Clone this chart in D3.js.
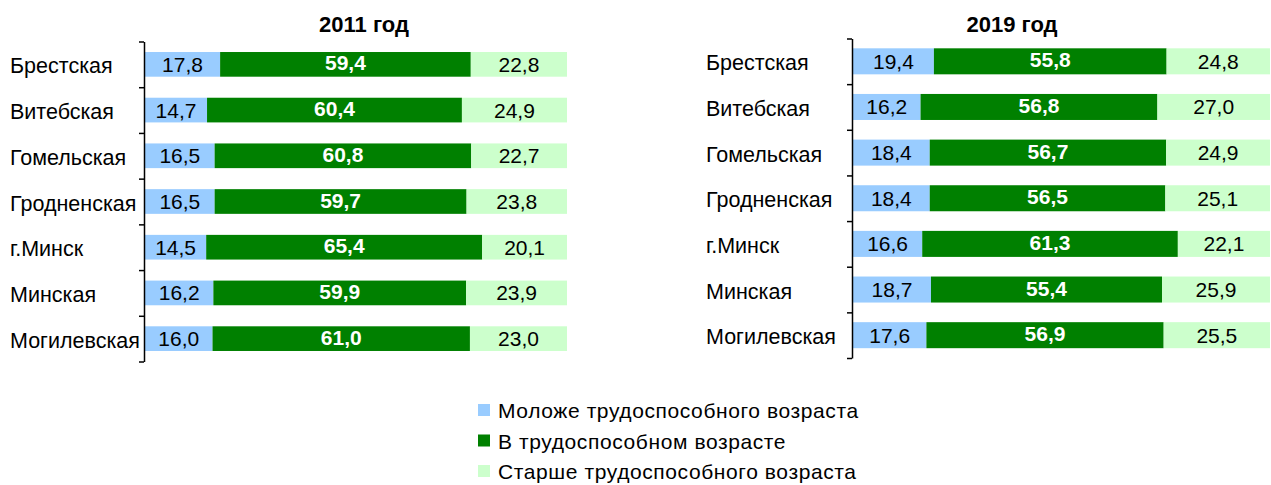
<!DOCTYPE html>
<html>
<head>
<meta charset="utf-8">
<script src="https://cdn.jsdelivr.net/npm/d3@7"></script>
<style>
  body { margin: 0; background: #fff; }
  svg text { font-family: "Liberation Sans", Arial, sans-serif; }
</style>
</head>
<body>
<div id="viz"></div>
<script>
// data
var regions = ["Брестская", "Витебская", "Гомельская", "Гродненская", "г.Минск", "Минская", "Могилевская"];
var seriesNames = ["Моложе трудоспособного возраста", "В трудоспособном возрасте", "Старше трудоспособного возраста"];
var young2011 = [17.8, 14.7, 16.5, 16.5, 14.5, 16.2, 16.0];
var working2011 = [59.4, 60.4, 60.8, 59.7, 65.4, 59.9, 61.0];
var old2011 = [22.8, 24.9, 22.7, 23.8, 20.1, 23.9, 23.0];
var young2019 = [19.4, 16.2, 18.4, 18.4, 16.6, 18.7, 17.6];
var working2019 = [55.8, 56.8, 56.7, 56.5, 61.3, 55.4, 56.9];
var old2019 = [24.8, 27.0, 24.9, 25.1, 22.1, 25.9, 25.5];

var W = 1271, H = 485;
var colors = ["#99ccff", "#008000", "#ccffcc"];
var keys = ["young", "working", "old"];
var fmt = function(v) { return d3.format(".1f")(v).replace(".", ","); };

var svg = d3.select("#viz").append("svg")
    .attr("width", W)
    .attr("height", H);

var panels = [
  { title: "2011 год", titleX: 364, labelX: 10, x0: 145, x1: 567, y0: 41.5, y1: 361.5, pad: 0.46,
    young: young2011, working: working2011, old: old2011 },
  { title: "2019 год", titleX: 1012, labelX: 706, x0: 853, x1: 1270, y0: 38.5, y1: 358, pad: 0.43,
    young: young2019, working: working2019, old: old2019 }
];

panels.forEach(function(p) {
  var rows = regions.map(function(r, i) {
    return { region: r, young: p.young[i], working: p.working[i], old: p.old[i] };
  });
  var stacked = d3.stack().keys(keys)(rows);

  var x = d3.scaleLinear().domain([0, 100]).range([p.x0, p.x1]);
  var y = d3.scaleBand().domain(regions).range([p.y0, p.y1]).paddingInner(p.pad).paddingOuter(p.pad / 2);
  var edge = d3.scaleLinear().domain([0, regions.length]).range([p.y0, p.y1]);

  var g = svg.append("g");

  g.append("text")
      .attr("x", p.titleX)
      .attr("y", 32)
      .attr("text-anchor", "middle")
      .attr("font-size", "22px")
      .attr("font-weight", "bold")
      .attr("fill", "#000")
      .text(p.title);

  // bars
  stacked.forEach(function(s, si) {
    g.append("g").selectAll("rect")
      .data(s)
      .enter().append("rect")
        .attr("x", function(d) { return x(d[0]); })
        .attr("y", function(d) { return y(d.data.region); })
        .attr("width", function(d) { return x(d[1]) - x(d[0]); })
        .attr("height", y.bandwidth())
        .style("fill", colors[si]);

    g.append("g").selectAll("text")
      .data(s)
      .enter().append("text")
        .attr("x", function(d) { return (x(d[0]) + x(d[1])) / 2; })
        .attr("y", function(d) { return y(d.data.region) + y.bandwidth() / 2 + (si == 1 ? 6 : 7.5); })
        .attr("text-anchor", "middle")
        .attr("font-size", "21px")
        .attr("font-weight", si == 1 ? "bold" : "normal")
        .attr("fill", si == 1 ? "#fff" : "#000")
        .text(function(d) { return fmt(d[1] - d[0]); });
  });

  // category labels, left aligned
  g.append("g").selectAll("text")
    .data(regions)
    .enter().append("text")
      .attr("x", p.labelX)
      .attr("y", function(d) { return y(d) + y.bandwidth() / 2 + 9; })
      .attr("font-size", "21.5px")
      .attr("fill", "#000")
      .text(function(d) { return d; });

  // axis with ticks between categories
  var axis = g.append("g")
      .attr("transform", "translate(" + (p.x0 - 1) + ",0)")
      .call(d3.axisLeft(edge).tickValues(d3.range(regions.length + 1)).tickSizeInner(5).tickSizeOuter(0).tickFormat(""));
  axis.selectAll("path, line").attr("stroke", "#000").attr("stroke-width", 1.5);
});

// legend
var legend = svg.append("g").selectAll("g")
    .data(seriesNames)
    .enter().append("g")
      .attr("transform", function(d, i) { return "translate(478," + (404 + i * 30.5) + ")"; });
legend.append("rect")
    .attr("width", 12)
    .attr("height", 12)
    .style("fill", function(d, i) { return colors[i]; });
legend.append("text")
    .attr("x", 20)
    .attr("y", 14)
    .attr("font-size", "21px")
    .attr("letter-spacing", "0.6px")
    .attr("fill", "#000")
    .text(function(d) { return d; });
</script>
</body>
</html>
